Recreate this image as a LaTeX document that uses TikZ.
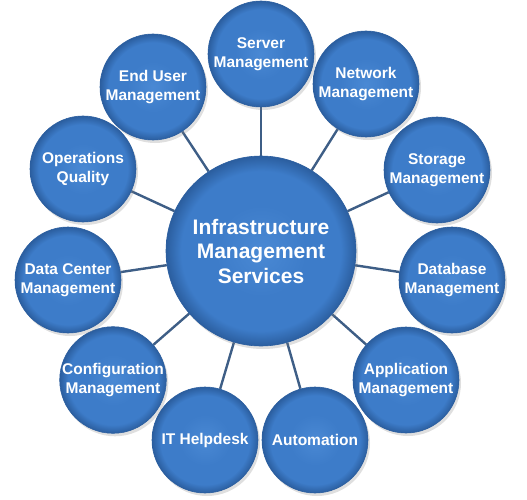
\documentclass[tikz,border=0pt]{standalone}
\usepackage{fontspec}
\setmainfont{Liberation Sans}
\usetikzlibrary{shadows, backgrounds}
\definecolor{orbfill}{HTML}{3D7CC9}
\definecolor{orbrim}{HTML}{2B5E9F}
\definecolor{orblight}{HTML}{4A89D4}
\definecolor{spoke}{HTML}{3E5E86}
\pgfdeclareradialshading{orbshade}{\pgfpoint{0bp}{0bp}}{%
  color(0bp)=(orblight); color(12bp)=(orbfill); color(21bp)=(orbfill);
  color(25bp)=(orbrim); color(50bp)=(orbrim)}

\begin{document}
\begin{tikzpicture}[
  x=1pt, y=-1pt,
  orb/.style={circle, inner sep=0pt, align=center, text=white,
    draw=orbrim, line width=0.6pt, shading=orbshade,
    drop shadow={shadow xshift=2pt, shadow yshift=-3pt, opacity=0.25}},
  petal/.style={orb, minimum size=106pt,
    font=\fontsize{15.5}{19}\selectfont\bfseries},
  hub/.style={orb, minimum size=190pt,
    font=\fontsize{21}{24.5}\selectfont\bfseries},
  link/.style={spoke, line width=2.4pt},
]
\useasboundingbox (0,0) rectangle (527,500);

% ---------- CENTRE ----------
\node[hub] (core) at (261,251) {Infrastructure\\Management\\Services};

% ---------- SURROUNDING SERVICES ----------
\foreach \nm/\px/\py/\txt in {%
    srv/261/54/{Server\\Management},
    net/366/84/{Network\\Management},
    sto/437/170/{Storage\\Management},
    dbm/452/280/{Database\\Management},
    app/406/380/{Application\\Management},
    aut/315/440/{Automation},
    hlp/205/440/{IT Helpdesk},
    cfg/113/380/{Configuration\\Management},
    dcm/68/280/{Data Center\\Management},
    ops/83/169/{Operations\\Quality},
    usr/153/87/{End User\\Management}}{%
  \node[petal] (\nm) at (\px,\py) {\txt};}

% ---------- SPOKES ----------
\begin{scope}[on background layer]
  \foreach \nm in {srv,net,sto,dbm,app,aut,hlp,cfg,dcm,ops,usr}
    \draw[link] (core) -- (\nm);
\end{scope}

\end{tikzpicture}
\end{document}
